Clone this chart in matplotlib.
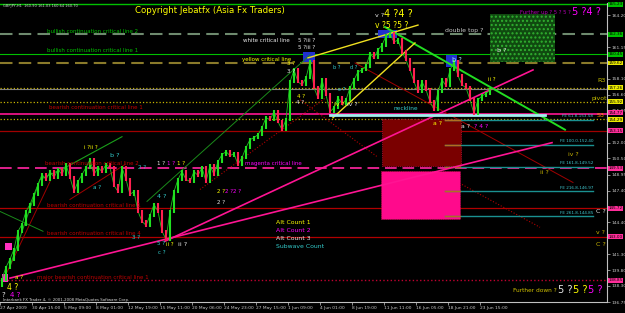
import numpy as np
import matplotlib
matplotlib.use("Agg")
import matplotlib.pyplot as plt
from matplotlib.patches import Rectangle
import matplotlib.transforms as mtrans

# ---------------- data ----------------
# GBPJPY H1 closes, one value every 4 bar-slots
closes = [138.94, 140.09, 140.85, 141.80, 143.52, 144.19, 145.42, 146.09, 147.05, 148.00,
          148.95, 148.48, 149.24, 148.67, 149.43, 148.95, 149.91, 148.67, 147.33, 148.28,
          148.95, 149.62, 150.38, 148.95, 149.62, 149.24, 149.91, 149.62, 147.90, 147.33,
          149.62, 148.48, 147.05, 147.33, 145.42, 144.47, 144.09, 145.04, 146.09, 145.42,
          143.52, 142.76, 145.42, 147.33, 148.48, 149.24, 148.48, 148.28, 149.24, 148.86,
          149.62, 148.28, 149.81, 148.95, 150.19, 150.86, 151.14, 150.76, 150.95, 149.91,
          150.57, 151.53, 152.29, 152.48, 152.77, 153.43, 154.39, 154.20, 154.96, 154.00,
          153.24, 154.20, 157.82, 158.96, 157.82, 157.53, 158.20, 159.72, 157.25, 156.29,
          158.01, 156.58, 154.96, 155.34, 156.29, 155.72, 156.10, 157.25, 158.01, 158.77,
          158.96, 159.34, 160.49, 160.11, 160.87, 161.34, 162.20, 162.39, 161.63, 161.82,
          160.68, 159.92, 158.96, 157.82, 156.86, 157.82, 157.06, 155.91, 155.15, 156.86,
          158.01, 157.44, 158.96, 159.72, 158.39, 157.53, 157.25, 156.10, 154.77, 156.10,
          156.48, 156.67, 157.06]
first_open = 138.30

date_ticks = [0, 32, 64, 96, 128, 160, 192, 224, 256, 288, 320, 352, 384, 416, 448, 480]
date_labels = ["27 Apr 2009", "30 Apr 15:00", "5 May 09:00", "8 May 01:00", "12 May 19:00",
               "15 May 11:00", "20 May 06:00", "24 May 23:00", "27 May 15:00", "1 Jun 09:00",
               "4 Jun 01:00", "8 Jun 19:00", "11 Jun 11:00", "16 Jun 05:00", "18 Jun 21:00",
               "23 Jun 15:00"]
price_ticks = [164.20, 161.15, 158.10, 156.60, 155.05, 152.00, 150.50, 148.95, 147.40,
               144.40, 141.30, 139.80, 138.30, 136.75]

# horizontal levels (price) and their price-scale tags
level_prices = [165.23, 162.36, 160.45, 159.62, 157.26, 157.15, 155.92, 154.77, 154.29,
                153.15, 149.53, 145.72, 143.00, 138.85]
tag_prices = [165.23, 162.36, 160.45, 159.62, 157.26, 155.92, 154.77, 154.29, 153.15,
              149.53, 145.72, 143.00, 138.85]

# trend lines: (bar0, price0, bar1, price1)
pink_lines = [(10, 139.04, 552, 152.00), (165, 142.57, 533, 158.96)]
green_trend = (147, 146.38, 310, 160.39)
green_down = (385, 163.06, 565, 153.24)
yellow_lines = [(308, 160.11, 418, 163.25), (333, 154.39, 415, 161.54)]
red_solid = [(355, 159.63, 573, 148.19), (7, 139.61, 50, 148.28), (70, 146.57, 125, 149.91)]
red_dotted = [(300, 156.10, 377, 150.67), (462, 148.00, 540, 143.90), (200, 147.52, 327, 156.39)]
green_channel_x = [10, 40, 67, 122]
green_channel_p = [140.18, 148.48, 149.71, 152.57]
green_cross = (0, 145.42, 43, 143.52)

# zones: (bar0, bar1, price_low, price_high)
zone_target1 = (382, 461, 149.81, 154.29)
zone_target2 = (381, 460, 144.66, 149.33)
zone_up = (490, 555, 159.72, 164.30)
blue_boxes = [(303, 315, 159.72, 160.72), (378, 397, 162.01, 162.78), (446, 457, 159.25, 160.39)]
pink_boxes = [(2, 8, 138.66, 139.42), (5, 12, 141.71, 142.37)]

neckline = (330, 545, 154.67)
fe_names = ["FE 61.8-153.58", "FE 100.0-152.40", "FE 161.8-149.52", "FE 216.8-146.97",
            "FE 261.8-144.85"]
fe_prices = [154.20, 151.81, 149.71, 147.33, 144.95]

# ---------------- style ----------------
YEL, WHT, CYN, MAG, RED = "#ffff00", "#e8e8e8", "#33cccc", "#ff00ff", "#c00000"
GRN = "#00c000"
level_styles = [(GRN, "-", 1.0), ("#6e8a6e", (0, (6, 3)), 1.5), (GRN, "-", 0.8),
                ("#8a7a2a", (0, (6, 3)), 1.5), ("#c8b400", ":", 0.9), ("#808080", "-", 0.8),
                ("#c8b400", ":", 0.9), ("#ff1493", "-", 1.2), ("#c8b400", ":", 0.9),
                ("#a00000", "-", 0.9), ("#e0208c", (0, (6, 3)), 1.4), ("#b00000", "-", 0.9),
                ("#b00000", "-", 0.9), ("#c00030", ":", 1.0)]
tag_colors = ["#00c000", "#00c000", "#00c000", "#e8e800", "#e8e800", "#e8e800", "#ff2d9a",
              "#e8e800", "#ff2d9a", "#ff2d9a", "#ff2d9a", "#ff2d9a", "#ff2d9a"]
# small vertical nudges so stacked tags stay readable
tag_nudge = [0, 0, 0, 0, 0, 0, 0.1, -0.1, 0, 0, 0, 0, 0]

fig = plt.figure(figsize=(6.25, 3.13), dpi=100, facecolor="black")
ax = fig.add_axes([0, 0.035, 0.9712, 0.955], facecolor="black")
ax.set_xlim(0, 607)
ax.set_ylim(136.85, 165.35)

# levels
for p, (c, ls, lw) in zip(level_prices, level_styles):
    ax.axhline(p, color=c, ls=ls, lw=lw, zorder=1)

# zones
for (x0, x1, lo, hi), fc in [(zone_target1, "#7a0000"), (zone_target2, "#ff0a8c")]:
    ax.add_patch(Rectangle((x0, lo), x1 - x0, hi - lo, fc=fc, ec="#c01040", lw=0.6,
                           ls=":", zorder=1.5))
x0, x1, lo, hi = zone_up
ax.add_patch(Rectangle((x0, lo), x1 - x0, hi - lo, fc="#104a10", ec="#30b030", hatch="....",
                       lw=0, zorder=1.5))
for x0, x1, lo, hi in blue_boxes:
    ax.add_patch(Rectangle((x0, lo), x1 - x0, hi - lo, fc="#2030d0", ec="none", zorder=2))
for x0, x1, lo, hi in pink_boxes:
    ax.add_patch(Rectangle((x0, lo), x1 - x0, hi - lo, fc="#ff30c0", ec="none", zorder=2))

# trend lines
def seg(l, **kw):
    ax.plot([l[0], l[2]], [l[1], l[3]], **kw)

for l in pink_lines:
    seg(l, color="#ff1493", lw=1.2, zorder=3)
seg(green_trend, color="#1a8a1a", lw=0.7, zorder=2)
seg(green_down, color="#22dd22", lw=1.4, zorder=3)
for l in yellow_lines:
    seg(l, color="#f0e020", lw=1.0, zorder=3)
for l in red_solid:
    seg(l, color="#a00000", lw=0.7, zorder=2)
for l in red_dotted:
    seg(l, color="#b00000", lw=0.8, ls=":", zorder=2)
ax.plot(green_channel_x, green_channel_p, color="#1aa01a", lw=0.8, zorder=2)
seg(green_cross, color="#1a8a1a", lw=0.7, zorder=2)

# neckline + FE projections
ax.plot([neckline[0], neckline[1]], [neckline[2]] * 2, color="#a0f0f0", lw=2.0, zorder=3)
for name, p in zip(fe_names, fe_prices):
    ax.plot([445, 593], [p, p], color="#1a9090", lw=1.0, zorder=2)
    ax.plot([445, 460], [p, p], color="#b07020", lw=1.0, zorder=2)
    ax.text(593, p + 0.12, name, color="#40c8d0", fontsize=3.0, ha="right", va="bottom", zorder=4)

# price bars
bar_x = 2 + 4 * np.arange(len(closes))
opens = [first_open] + closes[:-1]
up = np.array(closes) >= np.array(opens)
cols = np.where(up, "#20e020", "#ff2050")
ax.plot(bar_x, closes, color="#20c020", lw=0.6, zorder=4)
ax.vlines(bar_x, np.minimum(opens, closes) - 0.15, np.maximum(opens, closes) + 0.15,
          colors=cols, lw=1.5, zorder=5)

# ---------------- texts ----------------
def t(x, p, s, c, fs=4.0, **kw):
    ax.text(x, p, s, color=c, fontsize=fs, va="center", zorder=6, **kw)

t(210, 164.68, "Copyright Jebatfx (Asia Fx Traders)", YEL, 6.2, ha="center")
t(3, 165.05, "GBPJPY,H1  160.90 161.03 160.64 160.70", "#cfcfcf", 2.6)
t(47, 162.68, "bullish continuation critical line 2", GRN)
t(47, 160.77, "bullish continuation critical line 1", GRN)
t(243, 161.82, "white critical line", WHT)
t(298, 161.82, "5 ?iii ?", WHT)
t(298, 161.06, "5 ?iii ?", WHT)
t(242, 159.92, "yellow critical line", YEL)
t(287, 159.53, "3 ?", YEL); t(287, 158.77, "3 ?", WHT)
t(297, 156.39, "4 ?", YEL); t(296, 155.82, "4 ?", WHT)
t(49, 155.34, "bearish continuation critical line 1", RED)
t(84, 151.53, "i ?ii ?", YEL)
t(110, 150.76, "b ?", CYN, 4.6)
t(45, 150.00, "bearish continuation critical line 2", RED)
t(138, 149.65, "2 ?", CYN)
t(157, 150.00, "1 ?", WHT); t(167, 150.00, "1 ?", MAG); t(177, 150.00, "1 ?", YEL)
t(245, 150.00, "magenta critical line", MAG)
t(93, 147.71, "a ?", CYN)
t(47, 146.00, "bearish continuation critical line 1", RED)
t(157, 146.86, "4 ?", CYN, 4.6)
t(217, 147.33, "2 ?", YEL); t(225, 147.33, "2 ?", MAG); t(233, 147.33, "2 ?", MAG)
t(217, 146.28, "2 ?", WHT)
t(47, 143.33, "bearish continuation critical line 4", RED)
t(132, 142.90, "3 ?", CYN)
t(157, 142.37, "5 ?", CYN); t(158, 141.52, "c ?", CYN)
t(166, 142.28, "ii ?", YEL); t(178, 142.28, "ii ?", WHT, 4.6)
t(276, 144.38, "Alt Count 1", YEL, 4.4)
t(276, 143.61, "Alt Count 2", MAG, 4.4)
t(276, 142.85, "Alt Count 3", WHT, 4.4)
t(276, 142.08, "Subwave Count", CYN, 4.4)
t(37, 139.13, "major bearish continuation critical line 1", RED)
t(15, 139.13, "a ?", YEL)
t(7, 138.18, "4 ?", YEL, 5.5); t(1, 137.45, "?", WHT, 5.0); t(10, 137.45, "4 ?", MAG, 5.0)
t(3, 136.98, "Interbank FX Trader 4, \u00a9 2001-2008 MetaQuotes Software Corp.", "#dcdcdc", 2.8)
t(375, 164.20, "v ?", WHT, 4.6); t(384, 164.30, "4 ?4 ?", YEL, 7.0)
t(375, 163.25, "v ?5 ?5 ?", YEL, 5.5)
t(445, 162.77, "double top ?", "#c8c8c8", 4.4)
t(520, 164.49, "Further up ? 5 ? 5 ?", "#b000b0", 3.8)
t(572, 164.49, "5 ?4 ?", MAG, 7.0)
t(497, 160.86, "b ?", WHT, 4.6)
t(452, 159.92, "b ?", "#a0e0ff", 4.8)
t(488, 158.01, "ii ?", YEL)
t(597, 157.91, "R3", "#c8c000", 4.6)
t(591, 156.20, "pivot", "#c8c000", 4.4)
t(597, 154.58, "S3", "#ff9900", 4.6)
t(393, 155.24, "neckline", CYN, 4.2)
t(333, 159.15, "b ?", CYN, 3.6); t(350, 159.15, "d ?", CYN, 3.6)
t(338, 157.06, "e ?", CYN, 3.6)
t(334, 155.63, "iv ?", YEL, 4.4); t(347, 155.63, "iv ?", WHT, 4.4)
t(433, 153.81, "a ?", YEL, 4.4)
t(461, 153.53, "a ?", WHT, 4.4); t(474, 153.53, "? 4 ?", MAG, 4.4)
t(568, 150.86, "iv ?", "#c8b400", 4.4)
t(540, 149.14, "ii ?", "#c8b400", 4.4)
t(596, 145.43, "C ?", WHT, 4.6)
t(596, 143.42, "v ?", "#c8b400", 4.4)
t(596, 142.28, "C ?", "#c8b400", 4.6)
t(513, 137.89, "Further down ?", "#d0c000", 4.2)
t(558, 137.89, "5 ?", WHT, 7.0); t(573, 137.89, "5 ?", YEL, 7.0); t(588, 137.89, "5 ?", MAG, 7.0)

# ---------------- axes ----------------
for s in ["top", "left"]:
    ax.spines[s].set_visible(False)
for s in ["right", "bottom"]:
    ax.spines[s].set_color("#c0c0c0")
    ax.spines[s].set_linewidth(0.8)
ax.yaxis.tick_right()
ax.set_yticks(price_ticks)
ax.set_yticklabels([f"{v:.2f}" for v in price_ticks])
ax.set_xticks(date_ticks)
ax.set_xticklabels(date_labels)
ax.tick_params(axis="both", colors="#c8c8c8", labelsize=3.2, length=2, width=0.5, pad=1)
for lab in ax.get_xticklabels():
    lab.set_horizontalalignment("left")

tr = mtrans.blended_transform_factory(ax.transAxes, ax.transData)
for p, c, dy in zip(tag_prices, tag_colors, tag_nudge):
    ax.text(1.003, p + dy, f"{p:.2f}", transform=tr, fontsize=3.0, color="black", va="center",
            ha="left", clip_on=False, zorder=10,
            bbox=dict(boxstyle="square,pad=0.1", fc=c, ec="none"))

fig.savefig("out.png", dpi=100, facecolor="black")
